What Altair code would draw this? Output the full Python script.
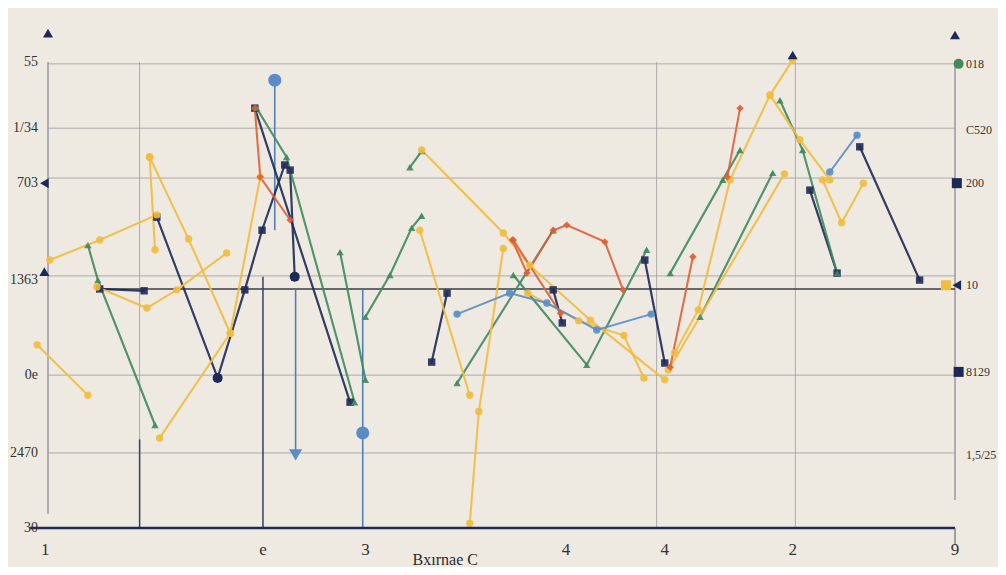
import altair as alt
import pandas as pd

# ---- data (plot-space values, x and y on 0-100 scales) ----
NAVY_1 = [(12.0, 66.7), (18.7, 32.2), (21.7, 51.1), (23.6, 63.9), (26.1, 77.9)]
NAVY_2 = [(22.8, 90.1), (33.3, 27.0)]
NAVY_3 = [(26.7, 76.8), (27.2, 53.9)]
NAVY_4 = [(42.3, 35.6), (44.0, 50.4)]
NAVY_5 = [(55.7, 51.1), (56.7, 44.0)]
NAVY_6 = [(65.8, 57.5), (68.0, 35.4)]
NAVY_7 = [(89.5, 81.8), (96.1, 53.2)]
NAVY_8 = [(84.0, 72.5), (87.0, 54.7)]
NAVY_9 = [(5.7, 51.3), (10.6, 50.9)]

GREEN_1 = [(4.4, 60.7), (5.5, 53.2), (11.8, 22.1)]
GREEN_2 = [(23.0, 90.1), (26.3, 79.6), (33.8, 27.0)]
GREEN_3 = [(39.9, 77.4), (41.2, 80.9)]
GREEN_4 = [(45.1, 31.1), (55.7, 63.9)]
GREEN_5 = [(51.3, 54.3), (59.4, 35.0), (66.0, 59.7)]
GREEN_6 = [(68.6, 54.7), (74.4, 74.7), (76.3, 81.1)]
GREEN_7 = [(71.9, 45.3), (79.9, 76.2)]
GREEN_8 = [(80.7, 91.8), (83.2, 81.1), (87.0, 54.7)]
GREEN_9 = [(35.0, 45.3), (37.7, 54.3), (40.1, 64.4), (41.2, 67.0)]
GREEN_10 = [(32.2, 59.2), (35.0, 31.8)]

YELLOW_1 = [(-1.2, 39.3), (4.4, 28.5)]
YELLOW_2 = [(0.2, 57.5), (5.7, 61.8), (12.0, 67.2)]
YELLOW_3 = [(11.2, 79.6), (11.8, 59.7)]
YELLOW_4 = [(12.3, 19.3), (20.1, 41.8), (23.4, 75.3)]
YELLOW_5 = [(11.2, 79.6), (15.5, 62.0), (20.1, 41.8)]
YELLOW_6 = [(41.2, 81.1), (50.2, 63.3), (53.1, 56.4), (59.8, 44.6), (68.0, 31.8)]
YELLOW_7 = [(41.0, 63.9), (46.5, 28.5)]
YELLOW_8 = [(50.2, 60.0), (47.5, 25.0), (46.5, 1.0)]
YELLOW_9 = [(69.1, 37.6), (71.7, 46.8), (75.2, 74.7), (79.6, 92.9), (82.1, 100.4)]
YELLOW_10 = [(85.4, 74.7), (87.5, 65.5), (89.9, 74.0)]
YELLOW_11 = [(68.4, 33.9), (81.2, 76.0)]
YELLOW_12 = [(79.6, 92.9), (82.9, 83.3), (86.2, 74.7)]
YELLOW_13 = [(52.9, 50.4), (58.5, 44.5), (63.5, 41.3), (65.7, 32.2)]
YELLOW_14 = [(5.4, 51.7), (10.9, 47.2), (14.2, 51.1), (19.7, 59.0)]

ORANGE_1 = [(22.8, 90.1), (23.4, 75.3), (26.7, 66.1)]
ORANGE_2 = [(51.2, 61.8), (52.8, 54.7), (55.7, 63.9), (57.2, 65.0), (61.4, 61.4), (63.4, 51.1)]
ORANGE_3 = [(76.3, 90.1), (74.9, 75.3)]
ORANGE_4 = [(71.1, 58.2), (68.6, 34.5)]
ORANGE_5 = [(51.3, 61.8), (56.5, 46.1)]

BLUE_1 = [(86.2, 76.4), (89.2, 84.3)]
BLUE_2 = [(45.1, 45.9), (50.9, 50.4), (55.0, 48.3), (60.5, 42.5), (66.5, 45.9)]

STROKES = {
    "navy": [NAVY_1, NAVY_2, NAVY_3, NAVY_4, NAVY_5, NAVY_6, NAVY_7, NAVY_8, NAVY_9],
    "green": [GREEN_1, GREEN_2, GREEN_3, GREEN_4, GREEN_5, GREEN_6, GREEN_7, GREEN_8, GREEN_9, GREEN_10],
    "yellow": [YELLOW_1, YELLOW_2, YELLOW_3, YELLOW_4, YELLOW_5, YELLOW_6, YELLOW_7, YELLOW_8,
               YELLOW_9, YELLOW_10, YELLOW_11, YELLOW_12, YELLOW_13, YELLOW_14],
    "orange": [ORANGE_1, ORANGE_2, ORANGE_3, ORANGE_4, ORANGE_5],
    "blue": [BLUE_1, BLUE_2],
}

# lollipops: x, marker y, stem top, stem bottom
LOLLI_X = [25.0, 34.7, 27.3]
LOLLI_MARK = [96.1, 20.4, 15.7]
LOLLI_TOP = [96.1, 51.1, 51.1]
LOLLI_BOTTOM = [63.9, 0.0, 15.7]
LOLLI_SHAPE = ["circle", "circle", "triangle-down"]

# dark stems
STEM_X = [23.7, 10.1]
STEM_TOP = [53.9, 19.0]

# edge markers
EDGE_X = [0.0, 82.1, 100.0, -0.4, -0.4, 100.4, 100.2, 100.2, 99.0, 100.4, 27.2, 18.7]
EDGE_Y = [106.2, 101.5, 105.8, 74.0, 55.0, 99.6, 74.0, 52.1, 52.1, 33.5, 53.9, 32.2]
EDGE_GROUP = ["navy", "navy", "navy", "navy", "navy", "green", "navy", "navy", "yellow", "navy", "navy", "navy"]
EDGE_SHAPE = ["triangle-up", "triangle-up", "triangle-up", "triangle-left", "triangle-up", "circle",
              "square", "triangle-left", "square", "square", "circle", "circle"]

# grid
H_GRID = [99.6, 85.8, 75.1, 54.1, 32.8, 16.1]
V_GRID = [10.1, 67.1, 82.4]

# axis texts
LEFT_LABELS = ["55", "1/34", "703", "1363", "0e", "2470", "30"]
LEFT_VALUES = [100.0, 85.8, 74.0, 53.2, 32.8, 16.1, 0.0]
RIGHT_LABELS = ["018", "C520", "200", "10", "8129", "1,5/25"]
RIGHT_VALUES = [99.6, 85.4, 74.0, 52.1, 33.5, 15.7]
BOTTOM_LABELS = ["1", "e", "3", "4", "4", "2", "9"]
BOTTOM_VALUES = [-0.3, 23.7, 35.0, 57.1, 68.0, 82.1, 100.0]
X_TITLE = "Bxırnae C"

# ---- styling ----
GROUPS = ["navy", "green", "yellow", "orange", "blue"]
COLORS = ["#1e2a56", "#3f8a5e", "#f0bd3e", "#de5f36", "#5a8cc6"]
WIDTHS = [2.2, 2.0, 1.6, 1.5, 1.6]
SHAPES = ["square", "triangle-up", "circle", "diamond", "circle"]
BG = "#eeeae2"
GRID = "#9b9b9b"
FONT = "Liberation Serif"

rows = []
for g, strokes in STROKES.items():
    for i, pts in enumerate(strokes):
        for j, (x, y) in enumerate(pts):
            rows.append({"stroke": f"{g}_{i}", "group": g, "order": j, "x": x, "y": y})
df = pd.DataFrame(rows)

xs = alt.Scale(domain=[0, 100], nice=False, zero=False)
ys = alt.Scale(domain=[0, 100], nice=False, zero=False)
X = lambda f: alt.X(f, type="quantitative", scale=xs, axis=None)
Y = lambda f: alt.Y(f, type="quantitative", scale=ys, axis=None)
col = alt.Color("group:N", scale=alt.Scale(domain=GROUPS, range=COLORS), legend=None)

hgrid = alt.Chart(pd.DataFrame({"y": H_GRID})).mark_rule(color=GRID, strokeWidth=1, opacity=0.8).encode(
    y=Y("y"), x=alt.value(0), x2=alt.value(907))
dark_h = alt.Chart(pd.DataFrame({"y": [51.3], "x": [5.5], "x2": [100.0]})).mark_rule(
    color="#3d3d45", strokeWidth=1.4).encode(y=Y("y"), x=X("x"), x2="x2")
vgrid = alt.Chart(pd.DataFrame({"x": V_GRID})).mark_rule(color=GRID, strokeWidth=1, opacity=0.8).encode(
    x=X("x"), y=alt.value(0), y2=alt.value(466))
side = alt.Chart(pd.DataFrame({"x": [0.0, 100.0], "y": [3.0, 6.0], "y2": [100.0, 100.0]})).mark_rule(
    color="#8a8d9a", strokeWidth=1.3).encode(x=X("x"), y=Y("y"), y2="y2")
base_axis = alt.Chart(pd.DataFrame({"x": [-2.0], "x2": [100.0], "y": [0.0]})).mark_rule(
    color="#1e2a56", strokeWidth=2.5).encode(x=X("x"), x2="x2", y=Y("y"))
end_tick = alt.Chart(pd.DataFrame({"x": [100.0], "y": [0.0], "y2": [-3.6]})).mark_rule(
    color="#555", strokeWidth=1).encode(x=X("x"), y=Y("y"), y2="y2")

stems = alt.Chart(pd.DataFrame({"x": STEM_X, "y": STEM_TOP, "y2": [0.0] * len(STEM_X)})).mark_rule(
    color="#34405f", strokeWidth=1.5).encode(x=X("x"), y=Y("y"), y2="y2")
lolli_df = pd.DataFrame({"x": LOLLI_X, "m": LOLLI_MARK, "t": LOLLI_TOP, "b": LOLLI_BOTTOM, "shape": LOLLI_SHAPE})
lolli_stem = alt.Chart(lolli_df).mark_rule(color="#4f7fb8", strokeWidth=1.6).encode(
    x=X("x"), y=Y("t"), y2="b")
lolli_head = alt.Chart(lolli_df).mark_point(filled=True, size=170, opacity=1, color="#5a8cc6").encode(
    x=X("x"), y=Y("m"), shape=alt.Shape("shape:N", scale=None))

lines = alt.Chart(df).mark_line(opacity=0.9, strokeCap="round").encode(
    x=X("x"), y=Y("y"), detail="stroke:N", order="order:Q", color=col,
    strokeWidth=alt.StrokeWidth("group:N", scale=alt.Scale(domain=GROUPS, range=WIDTHS), legend=None))
points = alt.Chart(df).mark_point(filled=True, size=55, opacity=0.9).encode(
    x=X("x"), y=Y("y"), color=col,
    shape=alt.Shape("group:N", scale=alt.Scale(domain=GROUPS, range=SHAPES), legend=None))

edge_df = pd.DataFrame({"x": EDGE_X, "y": EDGE_Y, "group": EDGE_GROUP, "shape": EDGE_SHAPE})
edges = alt.Chart(edge_df).mark_point(filled=True, size=100, opacity=1).encode(
    x=X("x"), y=Y("y"), color=col, shape=alt.Shape("shape:N", scale=None))

left_txt = alt.Chart(pd.DataFrame({"t": LEFT_LABELS, "y": LEFT_VALUES, "x": [-1.0] * len(LEFT_LABELS)})).mark_text(
    align="right", baseline="middle", font=FONT, fontSize=14, color="#333", dx=-1).encode(
    x=X("x"), y=Y("y"), text="t:N")
right_txt = alt.Chart(pd.DataFrame({"t": RIGHT_LABELS, "y": RIGHT_VALUES, "x": [101.2] * len(RIGHT_LABELS)})).mark_text(
    align="left", baseline="middle", font=FONT, fontSize=12, color="#333").encode(
    x=X("x"), y=Y("y"), text="t:N")
bottom_txt = alt.Chart(pd.DataFrame({"t": BOTTOM_LABELS, "x": BOTTOM_VALUES, "y": [-4.7] * len(BOTTOM_LABELS)})).mark_text(
    align="center", baseline="middle", font=FONT, fontSize=17, color="#333").encode(
    x=X("x"), y=Y("y"), text="t:N")
title_txt = alt.Chart(pd.DataFrame({"t": [X_TITLE], "x": [43.8], "y": [-6.9]})).mark_text(
    align="center", baseline="middle", font=FONT, fontSize=16, color="#2a2a2a").encode(
    x=X("x"), y=Y("y"), text="t:N")

chart = alt.layer(
    hgrid, vgrid, side, dark_h, stems, lolli_stem, lines, points, lolli_head, edges,
    base_axis, end_tick, left_txt, right_txt, bottom_txt, title_txt,
).properties(
    width=907, height=466, background=BG,
    padding={"left": 40, "top": 54, "right": 43, "bottom": 39},
    autosize=alt.AutoSizeParams(type="none"),
).configure_view(stroke=None)

chart.save("out.html", embed_options={"renderer": "svg", "actions": False})
